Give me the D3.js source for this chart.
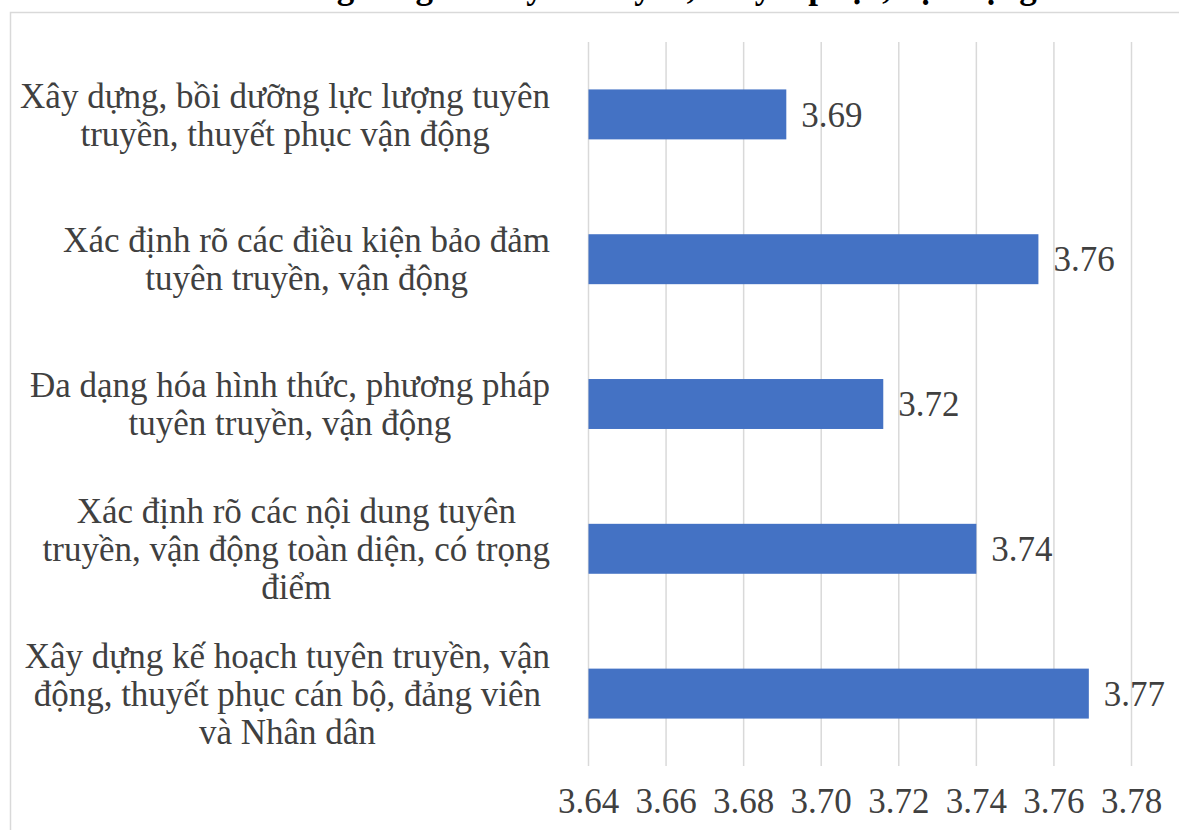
<!DOCTYPE html>
<html>
<head>
<meta charset="utf-8">
<script src="https://cdn.jsdelivr.net/npm/d3@7"></script>
<style>
  html, body { margin: 0; padding: 0; background: #ffffff; overflow: hidden; }
  svg { display: block; }
  text { font-family: "Liberation Serif", "Times New Roman", serif; }
</style>
</head>
<body>
<svg id="chart" width="1179" height="830"></svg>
<script>
// ---- data ----
const titleText = "trong công tác tuyên truyền, thuyết phục, vận động";
const categories = [
  ["Xây dựng, bồi dưỡng lực lượng tuyên", "truyền, thuyết phục vận động"],
  ["Xác định rõ các điều kiện bảo đảm", "tuyên truyền, vận động"],
  ["Đa dạng hóa hình thức, phương pháp", "tuyên truyền, vận động"],
  ["Xác định rõ các nội dung tuyên", "truyền, vận động toàn diện, có trọng", "điểm"],
  ["Xây dựng kế hoạch tuyên truyền, vận", "động, thuyết phục cán bộ, đảng viên", "và Nhân dân"]
];
const values = [3.691, 3.756, 3.716, 3.740, 3.769];
const tickValues = [3.64, 3.66, 3.68, 3.70, 3.72, 3.74, 3.76, 3.78];

// ---- layout ----
const svg = d3.select("#chart");
const plot = { left: 588.5, right: 1131.5, top: 42, bottom: 766 };
const fontSize = 35;
const textColor = "#404040";

const x = d3.scaleLinear().domain([3.64, 3.78]).range([plot.left, plot.right]);
const y = d3.scaleBand()
  .domain(d3.range(categories.length))
  .range([plot.top, plot.bottom])
  .paddingInner(0.655)
  .paddingOuter(0.3275);

// chart frame
svg.append("rect")
  .attr("x", 10.5).attr("y", 12.5)
  .attr("width", 1300).attr("height", 1000)
  .attr("fill", "none").attr("stroke", "#d9d9d9").attr("stroke-width", 1.5);

// title (cut off at the top edge, only descenders visible as in the reference)
svg.append("text")
  .attr("x", 655).attr("y", -2.5)
  .attr("text-anchor", "middle")
  .attr("font-size", 35).attr("font-weight", "bold")
  .attr("fill", "#000")
  .text(titleText);

// gridlines
svg.append("g").selectAll("line")
  .data(tickValues)
  .join("line")
  .attr("x1", d => x(d)).attr("x2", d => x(d))
  .attr("y1", plot.top).attr("y2", plot.bottom)
  .attr("stroke", "#d9d9d9").attr("stroke-width", 1.5);

// bars
svg.append("g").selectAll("rect")
  .data(values)
  .join("rect")
  .attr("x", x(3.64))
  .attr("y", (d, i) => y(i))
  .attr("width", d => x(d) - x(3.64))
  .attr("height", y.bandwidth())
  .attr("fill", "#4472c4");

// data labels
const fmt = d3.format(".2f");
svg.append("g").selectAll("text")
  .data(values)
  .join("text")
  .attr("x", d => x(d) + 15)
  .attr("y", (d, i) => y(i) + y.bandwidth() / 2)
  .attr("dy", "0.35em")
  .attr("font-size", fontSize)
  .attr("fill", textColor)
  .text(d => fmt(d));

// x tick labels
svg.append("g").selectAll("text")
  .data(tickValues)
  .join("text")
  .attr("x", d => x(d))
  .attr("y", 813)
  .attr("text-anchor", "middle")
  .attr("font-size", fontSize)
  .attr("fill", textColor)
  .text(d => fmt(d));

// category labels (wrapped lines, centred, block right-aligned)
const labelRight = 550;
const lineH = 38;
const catG = svg.append("g");
categories.forEach((lines, i) => {
  const cy = y(i) + y.bandwidth() / 2;
  const g = catG.append("g");
  const texts = lines.map((ln, k) => g.append("text")
    .attr("y", cy + (k - (lines.length - 1) / 2) * lineH)
    .attr("dy", "0.35em")
    .attr("text-anchor", "middle")
    .attr("font-size", fontSize)
    .attr("fill", textColor)
    .text(ln));
  const maxW = d3.max(texts, t => t.node().getComputedTextLength());
  texts.forEach(t => t.attr("x", labelRight - maxW / 2));
});
</script>
</body>
</html>
